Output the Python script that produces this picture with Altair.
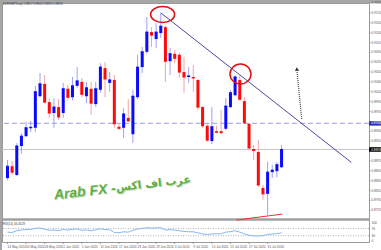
import altair as alt
import pandas as pd

FONT = "Liberation Sans"
W, H = 367, 239  # plot area (price panel + RSI panel share one view)

header = "EURGBP,Daily  0.8857 0.8902 0.8855 0.8893"
rsi_caption = "RSI(14) 46.4528"

# ---- daily candles ----
opens = [0.8835, 0.8859, 0.8841, 0.8900, 0.8920, 0.8936, 0.8937, 0.9001, 0.9026, 0.8989,
         0.8967, 0.8979, 0.8967, 0.9016, 0.8999, 0.9022, 0.9030, 0.9001, 0.9016, 0.8985,
         0.9014, 0.9058, 0.9028, 0.9034, 0.8939, 0.8937, 0.8957, 0.8924, 0.8999, 0.9060,
         0.9091, 0.9131, 0.9117, 0.9129, 0.9141, 0.9072, 0.9087, 0.9085, 0.9050, 0.9040,
         0.9040, 0.9034, 0.8979, 0.8941, 0.8910, 0.8930, 0.8930, 0.8935, 0.8979, 0.9003,
         0.9034, 0.8991, 0.8945, 0.8894, 0.8888, 0.8815, 0.8803, 0.8847, 0.8849, 0.8857]
highs = [0.8872, 0.8870, 0.8906, 0.8926, 0.8949, 0.8951, 0.9022, 0.9048, 0.9044, 0.8997,
         0.8997, 0.8995, 0.9028, 0.9024, 0.9040, 0.9060, 0.9038, 0.9030, 0.9030, 0.9030,
         0.9068, 0.9070, 0.9050, 0.9044, 0.8947, 0.8977, 0.8995, 0.9014, 0.9085, 0.9101,
         0.9162, 0.9141, 0.9149, 0.9170, 0.9145, 0.9099, 0.9095, 0.9089, 0.9081, 0.9060,
         0.9064, 0.9036, 0.8981, 0.8947, 0.8979, 0.8941, 0.8973, 0.8997, 0.9014, 0.9044,
         0.9042, 0.8999, 0.8947, 0.8902, 0.8912, 0.8821, 0.8868, 0.8862, 0.8868, 0.8902]
lows = [0.8831, 0.8841, 0.8839, 0.8884, 0.8918, 0.8928, 0.8928, 0.8999, 0.8987, 0.8957,
        0.8937, 0.8953, 0.8957, 0.8993, 0.8993, 0.9018, 0.8999, 0.8987, 0.8963, 0.8979,
        0.9008, 0.8999, 0.9010, 0.8937, 0.8932, 0.8916, 0.8949, 0.8906, 0.8995, 0.9048,
        0.9087, 0.9101, 0.9099, 0.9119, 0.9030, 0.9044, 0.9068, 0.9038, 0.9008, 0.9028,
        0.9010, 0.8973, 0.8937, 0.8908, 0.8904, 0.8926, 0.8924, 0.8932, 0.8977, 0.9001,
        0.8993, 0.8945, 0.8894, 0.8872, 0.8817, 0.8791, 0.8760, 0.8835, 0.8837, 0.8855]
closes = [0.8859, 0.8847, 0.8900, 0.8920, 0.8937, 0.8938, 0.9010, 0.9026, 0.8989, 0.8967,
          0.8979, 0.8959, 0.9016, 0.8999, 0.9022, 0.9032, 0.9005, 0.9018, 0.8987, 0.9016,
          0.9060, 0.9036, 0.9034, 0.8945, 0.8936, 0.8965, 0.8951, 0.9001, 0.9060, 0.9091,
          0.9131, 0.9125, 0.9131, 0.9143, 0.9072, 0.9087, 0.9078, 0.9050, 0.9040, 0.9042,
          0.9038, 0.8979, 0.8941, 0.8912, 0.8939, 0.8928, 0.8927, 0.8981, 0.9008, 0.9040,
          0.8995, 0.8947, 0.8896, 0.8891, 0.8821, 0.8803, 0.8847, 0.8851, 0.8862, 0.8893]

# ---- RSI(14) readings ----
rsi14 = [50, 48, 58, 62, 65, 65, 72, 74, 66, 60,
         62, 58, 65, 62, 66, 68, 60, 63, 58, 63,
         70, 65, 64, 48, 47, 52, 50, 60, 68, 71,
         75, 73, 74, 75, 62, 64, 62, 58, 54, 52,
         52, 46, 40, 37, 40, 41, 41, 50, 53, 58,
         50, 40, 33, 29, 28, 30, 38, 39, 42, 46.5]
rsi_levels = [70, 30]
rsi_tick_labels = [100, 70, 30, 0]

# ---- axis labels ----
date_ticks = [0, 4, 8, 12, 16, 20, 24, 28, 32, 36, 40, 44, 48, 52, 56]
date_labels = ["14 May 2020", "20 May 2020", "26 May 2020", "1 Jun 2020", "5 Jun 2020",
               "11 Jun 2020", "17 Jun 2020", "23 Jun 2020", "29 Jun 2020", "3 Jul 2020",
               "9 Jul 2020", "15 Jul 2020", "21 Jul 2020", "27 Jul 2020", "31 Jul 2020"]
price_ticks = [0.9190, 0.9170, 0.9150, 0.9130, 0.9110, 0.9090, 0.9070, 0.9050, 0.9030,
               0.9010, 0.8990, 0.8970, 0.8930, 0.8910, 0.8870, 0.8850, 0.8830, 0.8810,
               0.8790, 0.8770]

# ---- drawn objects ----
level_price = 0.8946
bid_price = closes[-1]
trend_bars, trend_prices = [33, 74], [0.9170, 0.8867]
support_bars, support_prices = [49.3, 59.2], [0.8750, 0.8762]
arrow_bars, arrow_prices = [63.35, 62.35], [0.8954, 0.9050]
arrow_head = (62.3, 0.9056)
ring_tops = [(33.4, 0.91667), (50.16, 0.90460)]

bars = list(range(len(opens)))
candles = pd.DataFrame({"bar": bars, "open": opens, "high": highs,
                        "low": lows, "close": closes})

xs = alt.Scale(domain=[-0.105, 76.75], nice=False, zero=False)
ys = alt.Scale(domain=[0.87054, 0.91900], nice=False, zero=False)
rs = alt.Scale(domain=[-5.65, 1344.6], nice=False, zero=False)


def X(field):
    return alt.X(field, type="quantitative", scale=xs, axis=None)


def Y(field, scale=ys):
    return alt.Y(field, type="quantitative", scale=scale, axis=None)


rising = alt.datum.close >= alt.datum.open
body_col = alt.condition(rising, alt.value("#0a0aff"), alt.value("#ff0a0a"))
wick_col = alt.condition(rising, alt.value("#9ea2f5"), alt.value("#f5a3a3"))

one = pd.DataFrame({"k": [0]})

# window frame, panel separator and captions
frame = alt.layer(
    alt.Chart(one).mark_rect(color="#a6a6a6").encode(
        x=alt.value(-2), x2=alt.value(W + 12), y=alt.value(-3), y2=alt.value(0)),
    alt.Chart(one).mark_rect(color="#a6a6a6").encode(
        x=alt.value(-2), x2=alt.value(0), y=alt.value(0), y2=alt.value(H + 8)),
    alt.Chart(one).mark_rect(color="#a0a0a0").encode(
        x=alt.value(0), x2=alt.value(W), y=alt.value(215.3), y2=alt.value(217.8)),
    alt.Chart(one).mark_text(align="left", baseline="middle", fontSize=3, font=FONT, color="#444").encode(
        x=alt.value(0.8), y=alt.value(1.2), text=alt.value(header)),
    alt.Chart(one).mark_text(align="left", baseline="middle", fontSize=3, font=FONT, color="#444").encode(
        x=alt.value(0.8), y=alt.value(220.6), text=alt.value(rsi_caption)),
)

# date scale along the bottom
dates_df = pd.DataFrame({"bar": date_ticks, "label": date_labels})
date_axis = alt.layer(
    alt.Chart(dates_df).mark_rule(color="#888", strokeWidth=0.8).encode(
        x=X("bar"), y=alt.value(H), y2=alt.value(H + 2)),
    alt.Chart(dates_df).mark_text(align="left", baseline="top", fontSize=3.2, font=FONT, color="#555").encode(
        x=X("bar"), y=alt.value(H + 2.6), text="label:N"),
)

# price scale along the right edge
prices_df = pd.DataFrame({"price": price_ticks, "label": ["%.4f" % p for p in price_ticks]})
price_axis = alt.layer(
    alt.Chart(prices_df).mark_rule(color="#888", strokeWidth=0.8).encode(
        y=Y("price"), x=alt.value(W), x2=alt.value(W + 1.5)),
    alt.Chart(prices_df).mark_text(align="left", baseline="middle", fontSize=3.2, font=FONT, color="#555").encode(
        y=Y("price"), x=alt.value(W + 2.3), text="label:N"),
)

# candles
wicks = alt.Chart(candles).mark_rule(strokeWidth=1).encode(
    x=X("bar"), y=Y("low"), y2="high", color=wick_col)
bodies = alt.Chart(candles).mark_bar(size=3).encode(
    x=X("bar"), y=Y("open"), y2="close", color=body_col)
close_marks = alt.Chart(candles).mark_tick(orient="horizontal", size=3, thickness=1, opacity=1).encode(
    x=X("bar"), y=Y("close"), color=body_col)

level_rule = alt.Chart(pd.DataFrame({"price": [level_price]})).mark_rule(
    color="#9d9ddc", strokeWidth=1, strokeDash=[5, 3]).encode(y=Y("price"))
bid_rule = alt.Chart(pd.DataFrame({"price": [bid_price]})).mark_rule(
    color="#c6c6c6", strokeWidth=1).encode(y=Y("price"))

trend = alt.Chart(pd.DataFrame({"bar": trend_bars, "price": trend_prices})).mark_line(
    color="#4a4aa8", strokeWidth=1).encode(x=X("bar"), y=Y("price"))
support = alt.Chart(pd.DataFrame({"bar": support_bars, "price": support_prices})).mark_line(
    color="#f03030", strokeWidth=1).encode(x=X("bar"), y=Y("price"))
arrow_line = alt.Chart(pd.DataFrame({"bar": arrow_bars, "price": arrow_prices})).mark_line(
    color="#444", strokeWidth=1.2, strokeDash=[1, 1]).encode(x=X("bar"), y=Y("price"))
arrow_tip = alt.Chart(pd.DataFrame({"bar": [arrow_head[0]], "price": [arrow_head[1]]})).mark_point(
    shape="triangle-up", size=18, filled=True, color="#333", opacity=1, angle=354.4).encode(
    x=X("bar"), y=Y("price"))


def ellipse(r):
    k = 0.5523 * r
    return ("M-1,0C-1,-%.3f,-0.552,-%.3f,0,-%.3f C0.552,-%.3f,1,-%.3f,1,0 "
            "C1,%.3f,0.552,%.3f,0,%.3f C-0.552,%.3f,-1,%.3f,-1,0Z" % (k, r, r, r, k, k, r, r, r, k))


ring1 = alt.Chart(pd.DataFrame({"bar": [ring_tops[0][0]], "price": [ring_tops[0][1]]})).mark_point(
    shape=ellipse(0.67), size=576, filled=False, color="#e01010", strokeWidth=1.5, opacity=1).encode(
    x=X("bar"), y=Y("price"))
ring2 = alt.Chart(pd.DataFrame({"bar": [ring_tops[1][0]], "price": [ring_tops[1][1]]})).mark_point(
    shape=ellipse(0.95), size=441, filled=False, color="#e01010", strokeWidth=1.5, opacity=1).encode(
    x=X("bar"), y=Y("price"))

# watermark
wm_latin = pd.DataFrame({"bar": [16.65], "price": [0.88068], "text": ["Arab FX -"]})
wm_arabic = pd.DataFrame({"bar": [31.4], "price": [0.8823], "text": ["عرب اف اكس"]})


def wm(df, font, size, color, dx, dy, style):
    return alt.Chart(df).mark_text(font=font, fontSize=size, fontWeight="bold", fontStyle=style,
                                   color=color, angle=353.4, align="center", baseline="middle",
                                   dx=dx, dy=dy).encode(x=X("bar"), y=Y("price"), text="text:N")


watermark = alt.layer(
    wm(wm_latin, FONT, 14, "#d3dccd", 1, 1, "italic"),
    wm(wm_arabic, "DejaVu Sans", 11, "#d3dccd", 1, 1, "normal"),
    wm(wm_latin, FONT, 14, "#5fb043", 0, 0, "italic"),
    wm(wm_arabic, "DejaVu Sans", 11, "#5fb043", 0, 0, "normal"),
)


# highlighted price tags on the right scale
def price_tag(value, fill):
    df = pd.DataFrame({"price": [value], "label": ["%.4f" % value]})
    box = alt.Chart(df).mark_tick(orient="horizontal", size=11.8, thickness=4.6, opacity=1, color=fill).encode(
        x=alt.value(W + 6), y=Y("price"))
    txt = alt.Chart(df).mark_text(align="left", baseline="middle", fontSize=3.2, font=FONT, color="white").encode(
        x=alt.value(W + 2.2), y=Y("price"), text="label:N")
    return alt.layer(box, txt)


price_panel = alt.layer(price_axis, bid_rule, level_rule, wicks, bodies, close_marks, trend,
                        watermark, ring1, ring2, arrow_line, arrow_tip, support,
                        price_tag(level_price, "#2e2eb8"), price_tag(bid_price, "#000000"))

# RSI panel
rsi_df = pd.DataFrame({"bar": bars, "rsi": rsi14})
rsi_line = alt.Chart(rsi_df).mark_line(color="#84b9ef", strokeWidth=1).encode(
    x=X("bar"), y=Y("rsi", rs))
rsi_lvl = alt.Chart(pd.DataFrame({"rsi": rsi_levels})).mark_rule(
    color="#b0b0b0", strokeWidth=1, strokeDash=[1, 1.5]).encode(y=Y("rsi", rs))
rsi_lab = alt.Chart(pd.DataFrame({"rsi": rsi_tick_labels})).mark_text(
    align="left", baseline="middle", fontSize=3.2, font=FONT, color="#555").encode(
    x=alt.value(W + 2.5), y=Y("rsi", rs), text="rsi:N")
rsi_panel = alt.layer(rsi_lvl, rsi_line, rsi_lab)

chart = alt.layer(frame, date_axis, price_panel, rsi_panel).resolve_scale(y="independent").properties(
    width=W, height=H, background="white",
    padding={"left": 2, "top": 3, "right": 12, "bottom": 8},
    autosize=alt.AutoSizeParams(type="none"),
).configure_view(stroke="#9a9a9a", strokeWidth=1)

chart.save("out.html", embed_options={"renderer": "svg", "actions": False})
